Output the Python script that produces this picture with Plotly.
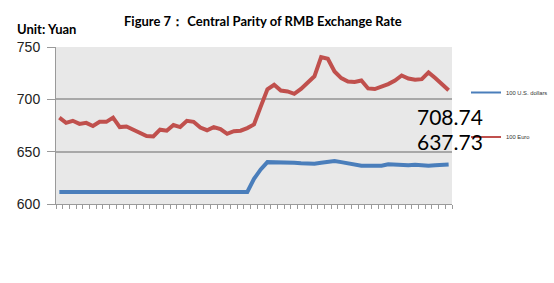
import plotly.graph_objects as go

# Data
periods = list(range(59))
usd = [611.5, 611.5, 611.5, 611.5, 611.5, 611.5, 611.5, 611.5, 611.5, 611.5,
       611.5, 611.5, 612.0, 612.2, 612.0, 611.5, 611.5, 611.5, 611.5, 611.5,
       611.5, 611.5, 611.5, 611.5, 611.5, 612.0, 611.5, 611.5, 611.5, 624.0,
       633.0, 640.0, 640.0, 640.0, 640.0, 639.5, 639.0, 638.5, 638.5, 639.5,
       640.5, 641.0, 640.0, 639.0, 637.5, 636.5, 636.5, 636.5, 636.5, 638.0,
       637.5, 637.5, 637.0, 637.5, 637.0, 636.5, 637.0, 637.5, 637.73]
eur = [682.5, 677.5, 679.5, 676.5, 677.5, 674.5, 678.5, 678.5, 682.5, 673.5,
       674.0, 671.0, 667.5, 665.0, 664.5, 671.0, 670.0, 675.5, 673.5, 679.5,
       678.5, 673.0, 670.5, 673.5, 671.5, 667.0, 669.5, 670.0, 672.5, 676.0,
       693.0, 709.6, 713.9, 708.4, 707.5, 705.3, 710.0, 715.5, 722.0, 740.4,
       738.8, 726.6, 720.3, 717.1, 716.5, 718.0, 710.4, 709.8, 712.0, 714.6,
       718.0, 722.8, 719.9, 718.7, 719.3, 725.7, 720.3, 714.8, 708.74]
series_names = ["100 U.S. dollars", "100 Euro"]
last_labels = ["708.74", "637.73"]
y_ticks = [600, 650, 700, 750]

BLUE = "#4a7ebb"
RED = "#c0504d"

fig = go.Figure()
fig.add_trace(go.Scatter(x=periods, y=usd, mode="lines", name=series_names[0],
                         line=dict(color=BLUE, width=4), showlegend=False))
fig.add_trace(go.Scatter(x=periods, y=eur, mode="lines", name=series_names[1],
                         line=dict(color=RED, width=4), showlegend=False))
# legend entries (thin lines as in the reference legend)
fig.add_trace(go.Scatter(x=[None], y=[None], mode="lines", name=series_names[0],
                         line=dict(color=BLUE, width=2), legend="legend"))
fig.add_trace(go.Scatter(x=[None], y=[None], mode="lines", name=series_names[1],
                         line=dict(color=RED, width=2), legend="legend2"))

L, R, T, B = 56, 102, 47, 79
W, H = 554, 283
pw = W - L - R
ph = H - T - B

def px(x):
    return (x - L) / pw

def py(y):
    return (H - B - y) / ph

legend_common = dict(font=dict(size=5.8, family="Liberation Sans", color="#333333"),
                     bgcolor="rgba(0,0,0,0)", borderwidth=0, itemwidth=30,
                     xanchor="left", yanchor="middle", tracegroupgap=0)
fig.update_layout(
    width=W, height=H,
    margin=dict(l=L, r=R, t=T, b=B, pad=0, autoexpand=False),
    paper_bgcolor="white",
    plot_bgcolor="#e8e8e8",
    showlegend=True,
    legend=dict(x=px(466), y=py(92.5), **legend_common),
    legend2=dict(x=px(466), y=py(137), **legend_common),
    xaxis=dict(range=[-0.5, 58.5], showgrid=False, zeroline=False,
               tickmode="array", tickvals=[i - 0.5 for i in range(60)],
               showticklabels=False, ticks="outside", ticklen=4,
               tickcolor="#9a9a9a", tickwidth=1,
               showline=True, linecolor="#9a9a9a", linewidth=1),
    yaxis=dict(range=[600, 750], tickmode="array", tickvals=y_ticks,
               ticks="outside", ticklen=8, tickcolor="#9a9a9a",
               showgrid=True, gridcolor="#a8a8a8", gridwidth=1.5,
               zeroline=False, showline=True, linecolor="#9a9a9a", linewidth=1,
               tickfont=dict(size=14, family="Liberation Sans", color="#222222"),
               ticklabelstandoff=4),
    font=dict(family="Liberation Sans"),
)

fig.add_annotation(text="Figure 7： Central Parity of RMB Exchange Rate",
                   xref="paper", yref="paper", x=px(122), y=py(21),
                   xanchor="left", yanchor="middle", showarrow=False,
                   font=dict(size=13, family="Lato", color="black", weight="bold"))
fig.add_annotation(text="Unit: Yuan", xref="paper", yref="paper",
                   x=px(15), y=py(29), xanchor="left", yanchor="middle",
                   showarrow=False,
                   font=dict(size=13, family="Lato", color="black", weight="bold"))
fig.add_annotation(text=last_labels[0], xref="paper", yref="paper",
                   x=px(415), y=py(116), xanchor="left", yanchor="middle",
                   showarrow=False, font=dict(size=21, family="Lato", color="black"))
fig.add_annotation(text=last_labels[1], xref="paper", yref="paper",
                   x=px(415), y=py(141.5), xanchor="left", yanchor="middle",
                   showarrow=False, font=dict(size=21, family="Lato", color="black"))

fig.write_html("out.html")
